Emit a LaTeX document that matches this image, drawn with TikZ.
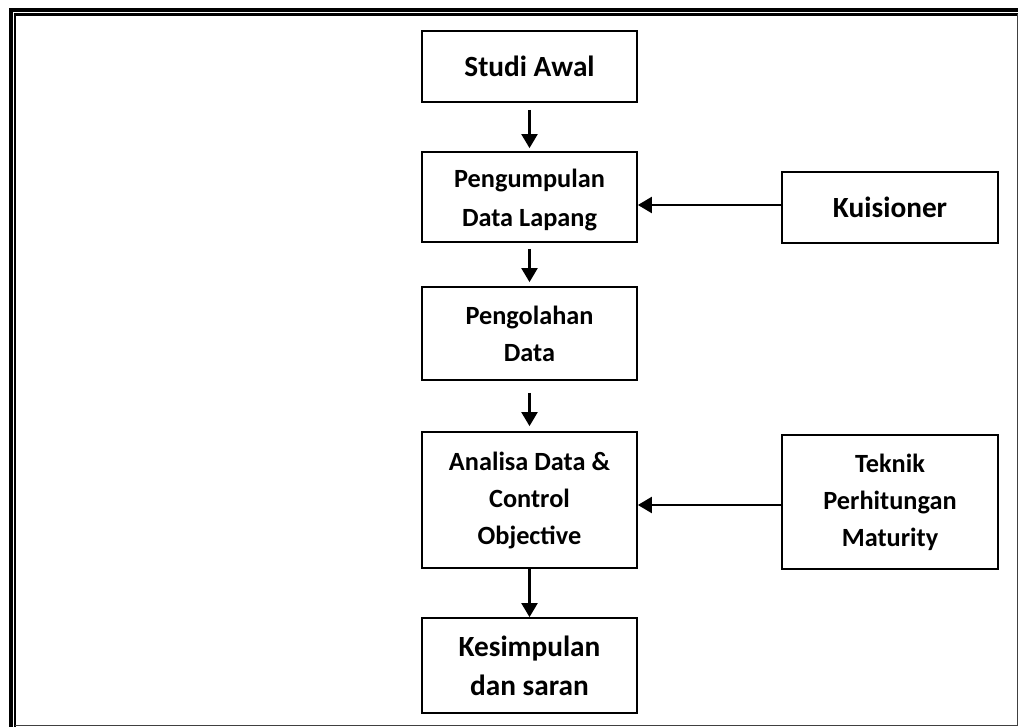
\documentclass[tikz,border=0pt]{standalone}
\usepackage{fontspec}
\setmainfont{Carlito}
\usetikzlibrary{arrows.meta}
\begin{document}
\begin{tikzpicture}[x=1pt,y=-1pt,
  box/.style={draw, line width=1.8pt, rectangle, inner sep=0pt, align=center,
              font=\bfseries\fontsize{26.3}{37}\selectfont},
  boxtext/.style={inner sep=0pt, align=center, font=\bfseries\fontsize{26.3}{39}\selectfont},
  bigtext/.style={font=\bfseries\fontsize{29.3}{39}\selectfont},
  flow/.style={line width=2.4pt, -{Triangle[length=14pt,width=16pt]}},
  frameouter/.style={line width=4pt},
  frameinner/.style={line width=2.5pt}]
  \useasboundingbox (0,0) rectangle (1018,727);

  % double page frame
  \draw[frameouter] (11,727) -- (11,10) -- (1018,10);
  \draw[frameinner] (15,727) -- (15,14.5) -- (1018,14.5);
  \draw[line width=1.3pt, black!75] (1017.3,14.5) -- (1017.3,725.4) -- (15,725.4);

  % main flow
  \node[box, bigtext, minimum width=215pt, minimum height=71pt] (studi) at (529.5,66.5) {Studi Awal};
  \node[box, minimum width=215pt, minimum height=90pt] (kumpul) at (529.5,197) {};
  \node[boxtext] (kumpultext) at ([yshift=-3pt]kumpul.center) {Pengumpulan\\Data Lapang};
  \node[box, minimum width=215pt, minimum height=93pt] (olah) at (529.5,333.5) {Pengolahan\\Data};
  \node[box, minimum width=215pt, minimum height=136pt] (analisa) at (529.5,500) {Analisa Data \&\\Control\\Objective};
  \node[box, bigtext, minimum width=215pt, minimum height=95pt] (simpul) at (529.5,665.5) {Kesimpulan\\dan saran};

  % inputs
  \node[box, bigtext, minimum width=216pt, minimum height=71pt] (kuis) at (890,207.5) {Kuisioner};
  \node[box, minimum width=216pt, minimum height=134pt] (teknik) at (890,502) {Teknik\\Perhitungan\\Maturity};

  % connectors
  \draw[flow] ([yshift=-7pt]studi.south) -- ([yshift=3pt]kumpul.north);
  \draw[flow] ([yshift=-6pt]kumpul.south) -- ([yshift=4pt]olah.north);
  \draw[flow] ([yshift=-12pt]olah.south) -- ([yshift=5pt]analisa.north);
  \draw[flow] (analisa.south) -- (simpul.north);
  \draw[flow] ([yshift=2.5pt]kuis.west) -- ([yshift=2.5pt]kuis.west -| kumpul.east);
  \draw[flow] ([yshift=-3pt]teknik.west) -- ([yshift=-3pt]teknik.west -| analisa.east);
\end{tikzpicture}
\end{document}
